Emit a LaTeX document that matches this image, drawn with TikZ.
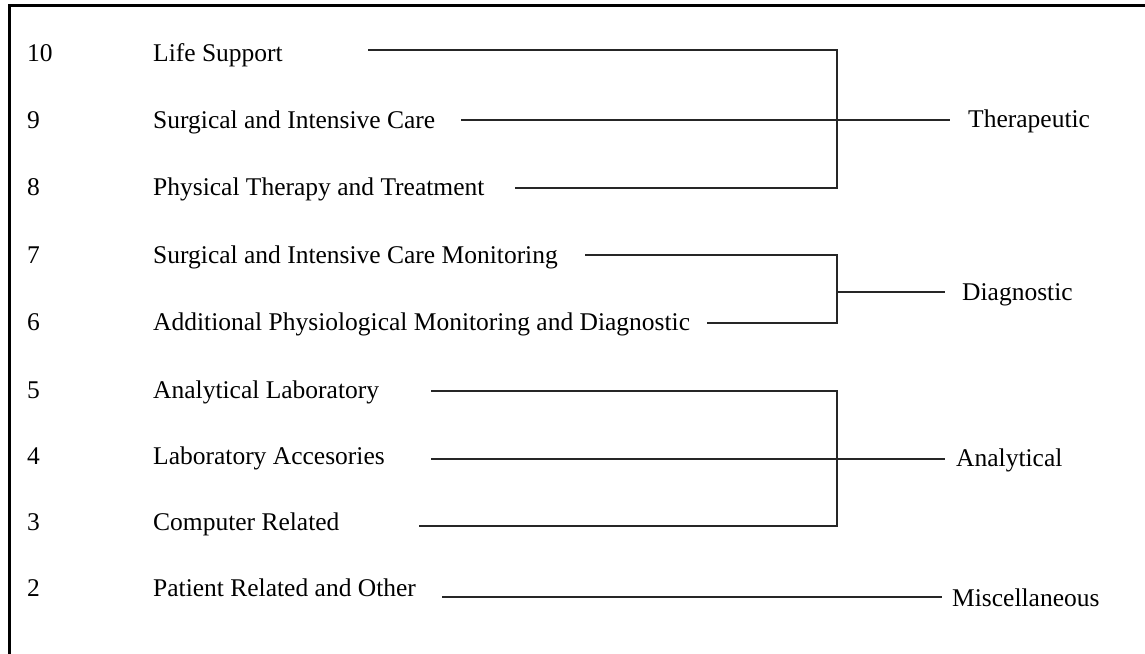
\documentclass[tikz,border=0pt]{standalone}
\usepackage{fontspec}
\setmainfont{Liberation Serif}
\begin{document}
\begin{tikzpicture}[x=1pt,y=-1pt,
  lab/.style={anchor=base west,inner sep=0pt,font=\fontsize{25.5}{30}\selectfont},
  conn/.style={line width=2pt,color=black!85},
  frame/.style={line width=3pt}]
\useasboundingbox (0,0) rectangle (1145,653);
\fill[white] (0,0) rectangle (1145,653);
\draw[frame] (9,700) -- (9,5) -- (1200,5);
% numbers
\foreach \n/\y in {10/61,9/128,8/195,7/263,6/330,5/398,4/464,3/530,2/596}
  \node[lab] (n\n) at (27,\y) {\n};
% item labels
\node[lab] (l10) at (153,61)  {Life Support};
\node[lab] (l9)  at (153,128) {Surgical and Intensive Care};
\node[lab] (l8)  at (153,195) {Physical Therapy and Treatment};
\node[lab] (l7)  at (153,263) {Surgical and Intensive Care Monitoring};
\node[lab] (l6)  at (153,330) {Additional Physiological Monitoring and Diagnostic};
\node[lab] (l5)  at (153,398) {Analytical Laboratory};
\node[lab] (l4)  at (153,464) {Laboratory Accesories};
\node[lab] (l3)  at (153,530) {Computer Related};
\node[lab] (l2)  at (153,596) {Patient Related and Other};
% group labels
\node[lab] (ther) at (968,127) {Therapeutic};
\node[lab] (diag) at (962,300) {Diagnostic};
\node[lab] (anal) at (956,466) {Analytical};
\node[lab] (misc) at (952,606) {Miscellaneous};
% line start points
\coordinate (s10) at (368,50);
\coordinate (s9)  at (461,120);
\coordinate (s8)  at (515,188);
\coordinate (s7)  at (585,255);
\coordinate (s6)  at (707,323);
\coordinate (s5)  at (431,391);
\coordinate (s4)  at (431,459);
\coordinate (s3)  at (419,526);
\coordinate (s2)  at (442,597);
% group ends
\coordinate (e1) at (950,120);
\coordinate (e2) at (945,292);
\coordinate (e3) at (945,459);
\coordinate (e4) at (942,597);
% brackets
\draw[conn] (s10) -| (837,188) -- (s8);
\draw[conn] (s9) -- (e1);
\draw[conn] (s7) -| (837,323) -- (s6);
\draw[conn] (837,292) -- (e2);
\draw[conn] (s5) -| (837,526) -- (s3);
\draw[conn] (s4) -- (e3);
\draw[conn] (s2) -- (e4);
\end{tikzpicture}
\end{document}
